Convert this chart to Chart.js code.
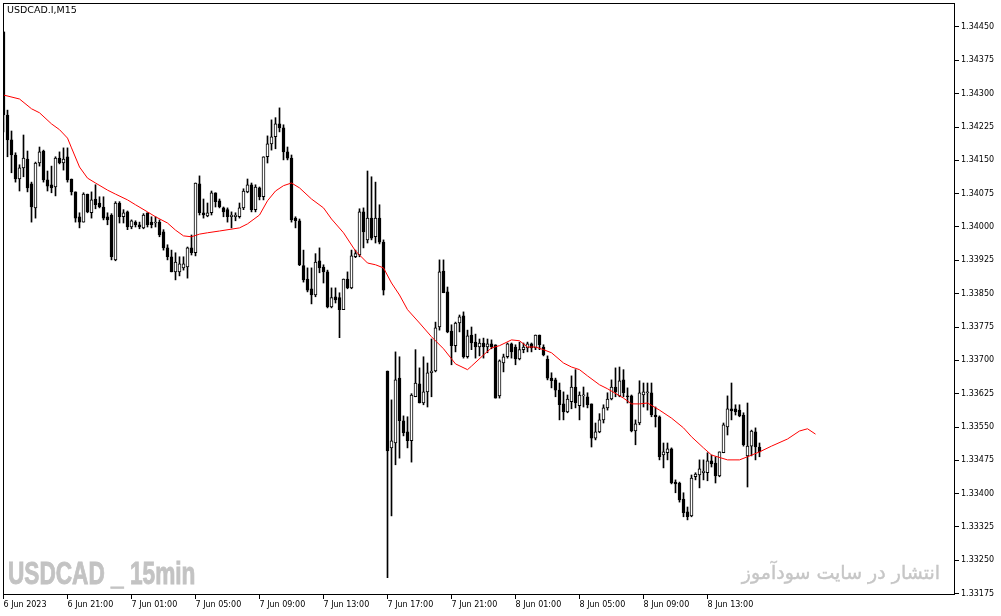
<!DOCTYPE html>
<html>
<head>
<meta charset="utf-8">
<script src="https://cdn.jsdelivr.net/npm/chart.js@4.4.0/dist/chart.umd.min.js"></script>
<style>
    body { margin: 0; background: #fff; }
    #wrap { position: relative; width: 1001px; height: 616px; overflow: hidden; }
    #chart { position: absolute; left: 0; top: 0; }
    .symbol { position: absolute; left: 7px; top: 4px; font: 9.5px "DejaVu Sans"; color: #000; }
    .wm-left { position: absolute; left: 8px; top: 556px; font: bold 31px "Liberation Sans"; color: #c3c3c3;
        -webkit-text-stroke: 0.9px #c3c3c3; transform: scaleX(0.73); transform-origin: left top; white-space: pre; }
    .wm-right { position: absolute; right: 61px; top: 561px; font: 19px "DejaVu Sans"; color: #c6c6c6;
        -webkit-text-stroke: 0.4px #c6c6c6; direction: rtl; }
</style>
</head>
<body>
<div id="wrap">
    <canvas id="chart" width="1001" height="616"></canvas>
    <div class="symbol">USDCAD.I,M15</div>
    <div class="wm-left">USDCAD _ 15min</div>
    <div class="wm-right">انتشار در سایت سودآموز</div>
</div>
<script>
// M15 candles, bar 0 = 6 Jun 2023 17:00
const opens = [
    1.34439,1.34252,1.34196,1.34162,1.34108,1.34133,1.34153,1.34097,1.34043,1.34144,
    1.34171,1.34106,1.34095,1.34090,1.34155,1.34144,1.34158,1.34108,1.34079,1.34023,
    1.34011,1.34074,1.34032,1.34063,1.34054,1.34045,1.34023,1.34027,1.33926,1.34054,
    1.34023,1.34034,1.34000,1.34011,1.34005,1.33998,1.34032,1.34011,1.34009,1.34011,
    1.33989,1.33953,1.33933,1.33899,1.33899,1.33908,1.33910,1.33953,1.33942,1.34097,
    1.34032,1.34025,1.34032,1.34077,1.34059,1.34043,1.34039,1.34023,1.34023,1.34023,
    1.34043,1.34079,1.34095,1.34039,1.34088,1.34068,1.34158,1.34187,1.34203,1.34232,
    1.34223,1.34169,1.34155,1.34020,1.34014,1.33913,1.33883,1.33861,1.33847,1.33924,
    1.33910,1.33899,1.33820,1.33843,1.33841,1.33814,1.33883,1.33863,1.33933,1.33937,
    1.34034,1.33971,1.34020,1.33978,1.34020,1.33966,1.33676,1.33503,1.33514,1.33660,
    1.33564,1.33539,1.33519,1.33618,1.33647,1.33604,1.33629,1.33672,1.33676,1.33775,
    1.33901,1.33854,1.33766,1.33733,1.33784,1.33800,1.33708,1.33757,1.33741,1.33730,
    1.33739,1.33730,1.33737,1.33735,1.33620,1.33694,1.33708,1.33737,1.33730,1.33703,
    1.33724,1.33728,1.33737,1.33728,1.33757,1.33730,1.33703,1.33660,1.33656,1.33633,
    1.33602,1.33584,1.33607,1.33640,1.33598,1.33620,1.33618,1.33602,1.33525,1.33539,
    1.33566,1.33593,1.33613,1.33640,1.33620,1.33656,1.33620,1.33620,1.33541,1.33559,
    1.33622,1.33627,1.33627,1.33577,1.33573,1.33487,1.33492,1.33501,1.33426,1.33424,
    1.33388,1.33359,1.33350,1.33438,1.33442,1.33447,1.33447,1.33474,1.33469,1.33440,
    1.33492,1.33550,1.33591,1.33591,1.33588,1.33577,1.33485,1.33507,1.33539,1.33505
];
const highs = [
    1.34439,1.34263,1.34216,1.34167,1.34140,1.34207,1.34171,1.34101,1.34146,1.34180,
    1.34173,1.34126,1.34137,1.34158,1.34169,1.34178,1.34178,1.34108,1.34079,1.34032,
    1.34077,1.34074,1.34079,1.34095,1.34068,1.34068,1.34032,1.34030,1.34057,1.34057,
    1.34039,1.34036,1.34016,1.34014,1.34011,1.34030,1.34032,1.34023,1.34023,1.34016,
    1.33994,1.33960,1.33948,1.33942,1.33933,1.33933,1.33955,1.33982,1.34099,1.34115,
    1.34063,1.34054,1.34081,1.34077,1.34063,1.34045,1.34043,1.34034,1.34032,1.34054,
    1.34086,1.34108,1.34099,1.34095,1.34090,1.34158,1.34205,1.34241,1.34246,1.34268,
    1.34230,1.34180,1.34162,1.34023,1.34018,1.33948,1.33908,1.33908,1.33940,1.33953,
    1.33915,1.33903,1.33863,1.33863,1.33852,1.33883,1.33899,1.33948,1.33948,1.34041,
    1.34043,1.34126,1.34113,1.34101,1.34050,1.33971,1.33676,1.33611,1.33719,1.33708,
    1.33575,1.33573,1.33625,1.33724,1.33683,1.33708,1.33694,1.33748,1.33786,1.33926,
    1.33926,1.33865,1.33780,1.33786,1.33802,1.33809,1.33768,1.33775,1.33759,1.33748,
    1.33750,1.33748,1.33746,1.33735,1.33701,1.33714,1.33739,1.33739,1.33735,1.33741,
    1.33739,1.33741,1.33739,1.33757,1.33757,1.33735,1.33710,1.33672,1.33660,1.33649,
    1.33629,1.33622,1.33665,1.33679,1.33629,1.33640,1.33627,1.33602,1.33559,1.33580,
    1.33600,1.33627,1.33656,1.33683,1.33685,1.33679,1.33638,1.33622,1.33566,1.33654,
    1.33649,1.33649,1.33649,1.33595,1.33575,1.33514,1.33514,1.33503,1.33431,1.33426,
    1.33402,1.33370,1.33442,1.33447,1.33476,1.33476,1.33492,1.33487,1.33483,1.33494,
    1.33559,1.33620,1.33649,1.33600,1.33600,1.33582,1.33604,1.33543,1.33548,1.33514
];
const lows = [
    1.34214,1.34158,1.34122,1.34101,1.34081,1.34113,1.34079,1.34011,1.34020,1.34137,
    1.34101,1.34081,1.34077,1.34070,1.34142,1.34128,1.34101,1.34072,1.34011,1.33998,
    1.34011,1.34032,1.34020,1.34041,1.34043,1.34016,1.34005,1.33926,1.33924,1.34009,
    1.34009,1.33994,1.33996,1.34000,1.33996,1.33996,1.34000,1.33998,1.34000,1.33978,
    1.33948,1.33926,1.33899,1.33881,1.33890,1.33903,1.33885,1.33937,1.33935,1.34027,
    1.34020,1.34023,1.34027,1.34045,1.34043,1.34023,1.34011,1.33998,1.34014,1.34020,
    1.34039,1.34077,1.34034,1.34034,1.34061,1.34061,1.34144,1.34173,1.34176,1.34214,
    1.34151,1.34151,1.34011,1.33998,1.33913,1.33876,1.33854,1.33827,1.33843,1.33897,
    1.33874,1.33818,1.33818,1.33829,1.33751,1.33814,1.33861,1.33861,1.33931,1.33933,
    1.33953,1.33964,1.33971,1.33964,1.33962,1.33847,1.33211,1.33350,1.33465,1.33480,
    1.33530,1.33503,1.33471,1.33618,1.33604,1.33600,1.33595,1.33618,1.33674,1.33768,
    1.33852,1.33762,1.33690,1.33719,1.33764,1.33705,1.33705,1.33724,1.33705,1.33710,
    1.33705,1.33717,1.33726,1.33615,1.33615,1.33674,1.33705,1.33705,1.33690,1.33701,
    1.33717,1.33719,1.33719,1.33724,1.33724,1.33710,1.33656,1.33638,1.33618,1.33566,
    1.33566,1.33582,1.33591,1.33593,1.33566,1.33595,1.33593,1.33505,1.33521,1.33537,
    1.33559,1.33588,1.33611,1.33618,1.33618,1.33618,1.33604,1.33539,1.33510,1.33555,
    1.33595,1.33588,1.33573,1.33550,1.33476,1.33458,1.33476,1.33422,1.33402,1.33381,
    1.33348,1.33341,1.33348,1.33431,1.33413,1.33431,1.33429,1.33460,1.33424,1.33438,
    1.33492,1.33532,1.33566,1.33577,1.33573,1.33507,1.33415,1.33485,1.33476,1.33483
];
const closes = [
    1.34252,1.34196,1.34162,1.34108,1.34133,1.34155,1.34088,1.34045,1.34144,1.34169,
    1.34106,1.34092,1.34088,1.34155,1.34144,1.34153,1.34106,1.34079,1.34020,1.34011,
    1.34074,1.34034,1.34061,1.34050,1.34045,1.34020,1.34016,1.33933,1.34054,1.34023,
    1.34032,1.34000,1.34014,1.34005,1.34000,1.34027,1.34005,1.34005,1.34011,1.33982,
    1.33953,1.33933,1.33899,1.33921,1.33917,1.33917,1.33953,1.33942,1.34099,1.34032,
    1.34027,1.34032,1.34077,1.34057,1.34045,1.34034,1.34023,1.34027,1.34027,1.34043,
    1.34081,1.34095,1.34039,1.34090,1.34068,1.34158,1.34187,1.34203,1.34232,1.34223,
    1.34169,1.34155,1.34016,1.34014,1.33915,1.33881,1.33858,1.33847,1.33921,1.33908,
    1.33899,1.33820,1.33841,1.33836,1.33814,1.33883,1.33863,1.33935,1.33940,1.34034,
    1.33989,1.34020,1.33975,1.34020,1.33966,1.33858,1.33496,1.33519,1.33656,1.33564,
    1.33537,1.33519,1.33622,1.33649,1.33604,1.33629,1.33672,1.33676,1.33773,1.33899,
    1.33852,1.33764,1.33733,1.33784,1.33798,1.33708,1.33755,1.33739,1.33730,1.33739,
    1.33730,1.33737,1.33730,1.33615,1.33699,1.33708,1.33737,1.33719,1.33703,1.33724,
    1.33730,1.33737,1.33728,1.33757,1.33735,1.33712,1.33660,1.33654,1.33633,1.33600,
    1.33584,1.33613,1.33640,1.33604,1.33622,1.33622,1.33600,1.33525,1.33539,1.33566,
    1.33593,1.33613,1.33640,1.33629,1.33654,1.33627,1.33618,1.33541,1.33557,1.33627,
    1.33629,1.33629,1.33577,1.33573,1.33483,1.33494,1.33501,1.33424,1.33422,1.33386,
    1.33357,1.33348,1.33435,1.33444,1.33456,1.33451,1.33474,1.33467,1.33440,1.33494,
    1.33555,1.33591,1.33586,1.33584,1.33575,1.33510,1.33507,1.33541,1.33505,1.33494
];

// red moving average (shifted forward past the last bar)
const maBars = [0,4,7,9,12,14,16,17,19,21,23,26,28,31,33,36,38,41,43,45,
    47,49,51,54,59,61,64,66,68,70,72,74,77,80,82,85,88,91,93,95,
    97,99,101,104,107,110,113,116,117,120,122,124,127,129,131,133,135,137,140,142,
    144,146,149,151,155,157,159,161,164,167,170,172,175,177,181,184,186,189,192,196,
    199,201,203];
const maValues = [1.34297,1.34288,1.34266,1.34257,1.34232,1.34219,1.34200,1.34178,1.34135,1.34110,
    1.34099,1.34083,1.34074,1.34061,1.34050,1.34034,1.34023,1.34009,1.33993,1.33980,
    1.33978,1.33984,1.33987,1.33991,1.33998,1.34007,1.34027,1.34059,1.34081,1.34093,
    1.34099,1.34088,1.34063,1.34043,1.34018,1.33987,1.33946,1.33919,1.33915,1.33908,
    1.33874,1.33847,1.33814,1.33784,1.33753,1.33726,1.33692,1.33679,1.33687,1.33712,
    1.33728,1.33733,1.33746,1.33744,1.33730,1.33730,1.33724,1.33717,1.33694,1.33685,
    1.33679,1.33665,1.33645,1.33636,1.33615,1.33602,1.33602,1.33604,1.33588,1.33570,
    1.33548,1.33528,1.33503,1.33487,1.33476,1.33476,1.33483,1.33494,1.33507,1.33523,
    1.33541,1.33546,1.33534];

const xTickBars = [0, 16, 32, 48, 64, 80, 96, 112, 128, 144, 160, 176];
const xTickLabels = ['6 Jun 2023', '6 Jun 21:00', '7 Jun 01:00', '7 Jun 05:00', '7 Jun 09:00', '7 Jun 13:00',
    '7 Jun 17:00', '7 Jun 21:00', '8 Jun 01:00', '8 Jun 05:00', '8 Jun 09:00', '8 Jun 13:00'];
const yTickValues = [1.34450, 1.34375, 1.34300, 1.34225, 1.34150, 1.34075, 1.34000, 1.33925, 1.33850,
    1.33775, 1.33700, 1.33625, 1.33550, 1.33475, 1.33400, 1.33325, 1.33250, 1.33175];

const axisFont = {family: 'DejaVu Sans', size: 8};

const bodies = opens.map((o, i) => ({x: i, y: [o, closes[i]]}));
const bodyColors = opens.map((o, i) => closes[i] > o ? '#ffffff' : '#000000');
const wicks = lows.map((l, i) => ({x: i, y: [l, highs[i]]}));
const maLine = maBars.map((b, i) => ({x: b, y: maValues[i]}));

const framePlugin = {
    id: 'frame',
    afterDraw(chart) {
        const {ctx, chartArea: a} = chart;
        ctx.save();
        ctx.strokeStyle = '#000';
        ctx.lineWidth = 1;
        ctx.strokeRect(a.left + 0.5, a.top + 0.5, a.width - 1, a.height - 1);
        ctx.restore();
    }
};

new Chart(document.getElementById('chart').getContext('2d'), {
    type: 'bar',
    data: {
        datasets: [
            {
                type: 'line',
                label: 'MA',
                data: maLine,
                borderColor: '#ff0000',
                borderWidth: 1,
                pointRadius: 0,
                tension: 0,
                order: 0
            },
            {
                label: 'Body',
                data: bodies,
                backgroundColor: bodyColors,
                borderColor: '#000000',
                borderWidth: 1,
                borderSkipped: false,
                barThickness: 3,
                minBarLength: 1,
                grouped: false,
                order: 1
            },
            {
                label: 'Wick',
                data: wicks,
                backgroundColor: '#000000',
                borderWidth: 0,
                barThickness: 1,
                grouped: false,
                order: 2
            }
        ]
    },
    options: {
        responsive: false,
        animation: false,
        devicePixelRatio: 1,
        layout: {padding: {left: 3, top: 3, right: 0, bottom: 0}},
        plugins: {legend: {display: false}, tooltip: {enabled: false}},
        scales: {
            x: {
                type: 'linear',
                offset: false,
                min: -0.125,
                max: 237.875,
                afterBuildTicks: scale => { scale.ticks = xTickBars.map(v => ({value: v})); },
                afterFit: scale => { scale.height = 21; },
                ticks: {
                    autoSkip: false,
                    maxRotation: 0,
                    align: 'start',
                    padding: 1,
                    color: '#000',
                    font: axisFont,
                    callback: value => xTickLabels[xTickBars.indexOf(value)] || ''
                },
                grid: {offset: false, drawOnChartArea: false, drawTicks: true, tickLength: 4, color: '#000'},
                border: {display: false}
            },
            y: {
                type: 'linear',
                position: 'right',
                min: 1.33172,
                max: 1.34504,
                afterBuildTicks: scale => { scale.ticks = yTickValues.map(v => ({value: v})); },
                afterFit: scale => {
                    scale.width = 46;
                    scale.paddingTop = 0;
                    scale.paddingBottom = 0;
                },
                ticks: {
                    padding: 2,
                    color: '#000',
                    font: axisFont,
                    callback: value => value.toFixed(5)
                },
                grid: {drawOnChartArea: false, drawTicks: true, tickLength: 4, color: '#000'},
                border: {display: false}
            }
        }
    },
    plugins: [framePlugin]
});
</script>
</body>
</html>
